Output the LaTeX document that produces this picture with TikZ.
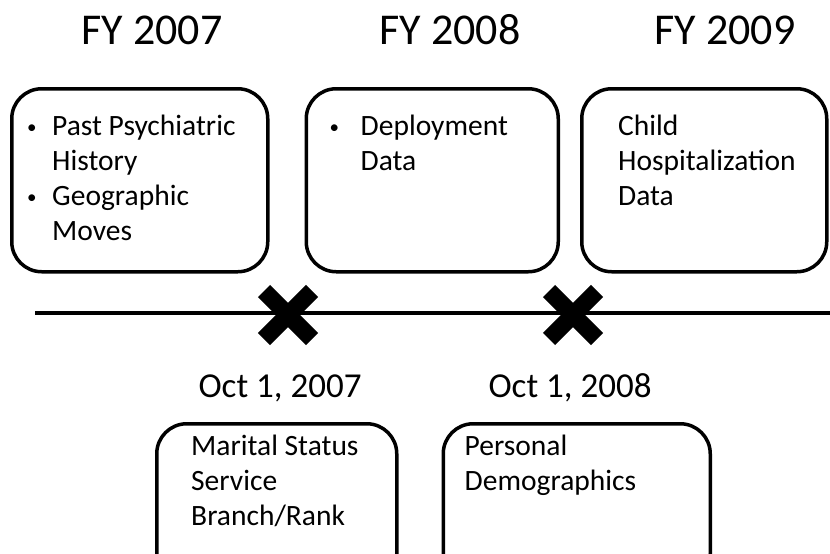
\documentclass[tikz,border=0pt]{standalone}
\usepackage{fontspec}
\setmainfont{Carlito}
\usetikzlibrary{positioning}
\tikzset{
  databox/.style={draw, line width=3.5pt, rounded corners=30pt, inner sep=0pt},
  boxtext/.style={align=left, inner sep=0pt, font=\fontsize{29.5}{35}\selectfont},
  fyear/.style={anchor=base, font=\fontsize{44}{50}\selectfont},
  datelabel/.style={anchor=base, font=\fontsize{35}{40}\selectfont},
  xmark/.style={line width=17pt},
}
\newcommand{\bul}[1]{\makebox[#1][l]{\raisebox{2pt}{\fontsize{19}{19}\selectfont\textbullet}}}

\begin{document}
\begin{tikzpicture}[x=1pt,y=-1pt]
  \clip (0,0) rectangle (830,554);

  % fiscal years
  \node[fyear] (fy07) at (152,44) {FY 2007};
  \node[fyear] (fy08) at (450,44) {FY 2008};
  \node[fyear] (fy09) at (725,44) {FY 2009};

  % data added each year
  \node[databox, minimum width=256pt, minimum height=183pt, anchor=north west] (b07) at (10,87) {};
  \node[databox, minimum width=252pt, minimum height=183pt, right=35pt of b07] (b08) {};
  \node[databox, minimum width=245pt, minimum height=183pt, right=20pt of b08] (b09) {};
  \node[boxtext, below right=28pt and 17pt of b07.north west] (t07)
    {\bul{25pt}Past Psychiatric\\ \hspace*{25pt}History\\ \bul{25pt}Geographic\\ \hspace*{25pt}Moves};
  \node[boxtext, below right=28pt and 25pt of b08.north west] (t08)
    {\bul{31pt}Deployment\\ \hspace*{31pt}Data};
  \node[boxtext, below right=28pt and 38pt of b09.north west] (t09)
    {Child\\ Hospitalization\\ Data};

  % timeline
  \coordinate (tl0) at (35,313);
  \coordinate (tl1) at (830,313);
  \draw[line width=4pt] (tl0) -- (tl1);
  \coordinate (m07) at (288,315);
  \coordinate (m08) at (573,315);
  \foreach \m in {m07,m08} {
    \draw[xmark] ([shift={(-24,-24)}]\m) -- ([shift={(24,24)}]\m);
    \draw[xmark] ([shift={(-24,24)}]\m) -- ([shift={(24,-24)}]\m);
  }
  \node[datelabel] (d07) at (280,397) {Oct 1, 2007};
  \node[datelabel] (d08) at (570,397) {Oct 1, 2008};

  % data from the start dates
  \node[databox, minimum width=240pt, minimum height=160pt, anchor=north west] (c07) at (155,422) {};
  \node[databox, minimum width=267pt, minimum height=160pt, right=43pt of c07] (c08) {};
  \node[boxtext, below right=13pt and 36pt of c07.north west] (s07)
    {Marital Status\\ Service\\ Branch/Rank};
  \node[boxtext, below right=13pt and 23pt of c08.north west] (s08)
    {Personal\\ Demographics};
\end{tikzpicture}
\end{document}
